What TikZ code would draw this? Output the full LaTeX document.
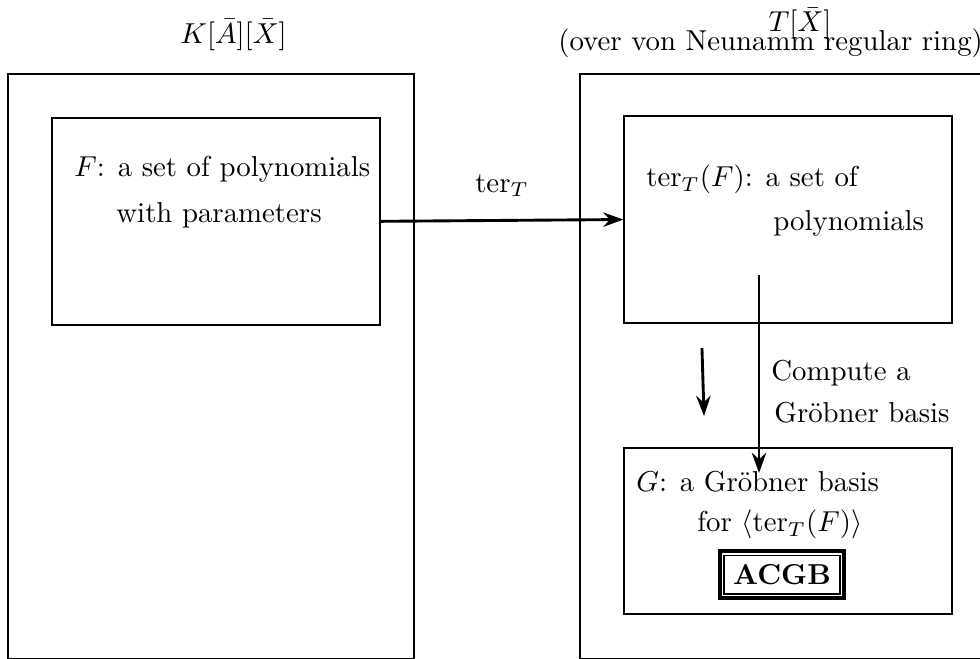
\documentclass[tikz,border=0pt]{standalone}
\usetikzlibrary{arrows.meta}

\begin{document}
\begin{tikzpicture}[line width=1pt,>={Stealth[length=7pt,width=5pt]},
ringbox/.style={draw,rectangle,line width=0.5pt,inner sep=0pt,minimum width=4.953cm,minimum height=7.13cm},
setbox/.style={draw,rectangle,line width=0.5pt,inner sep=0pt,minimum width=4.0cm,minimum height=2.525cm},
txt/.style={inner sep=0pt,anchor=base west},
acgbbox/.style={draw,rectangle,line width=1.2pt,inner sep=1.2pt}]

\useasboundingbox (0,0) rectangle (11.956,-8.028);

\draw (2.85,-0.527) node[txt,anchor=base] (ltitle) {$K[\bar{A}][\bar{X}]$};
\draw (9.76,-0.39) node[txt,anchor=base] (rtitle) {$T[\bar{X}]$};
\draw (6.795,-0.61) node[txt] (rnote) {(over von Neunamm regular ring)};

\draw (2.574,-4.468) node[ringbox] (lring) {};
\draw (9.553,-4.468) node[ringbox] (rring) {};

\draw (2.635,-2.70) node[setbox] (fset) {};
\draw (9.614,-2.678) node[setbox] (tset) {};
\draw (9.614,-6.478) node[setbox,minimum height=2.025cm] (gset) {};

\draw (0.891,-2.147) node[txt] (f1) {$F$: a set of polynomials};
\draw (1.403,-2.72) node[txt] (f2) {with parameters};
\draw (7.869,-2.28) node[txt] (t1) {$\mathrm{ter}_{T}(F)$: a set of};
\draw (9.418,-2.806) node[txt] (t2) {polynomials};
\draw (7.747,-5.99) node[txt] (g1) {$G$: a Gr\"obner basis};
\draw (8.49,-6.49) node[txt] (g2) {for $\langle\mathrm{ter}_{T}(F)\rangle$};
\draw (9.54,-7.01) node[acgbbox] (acgb) {\fbox{\textbf{ACGB}}};
\draw (9.394,-4.636) node[txt] (c1) {Compute a};
\draw (9.43,-5.16) node[txt] (c2) {Gr\"obner basis};

\coordinate (gstart) at (9.26,-3.355);
\coordinate (gend) at (9.26,-5.77);
\coordinate (sstart) at (8.564,-4.246);
\coordinate (send) at (8.589,-5.075);

\draw[->] (fset.east) -- node[above=4.5pt] {$\mathrm{ter}_{T}$} (tset.west);
\draw[->] (gstart) -- (gend);
\draw[->] (sstart) -- (send);
\end{tikzpicture}
\end{document}
